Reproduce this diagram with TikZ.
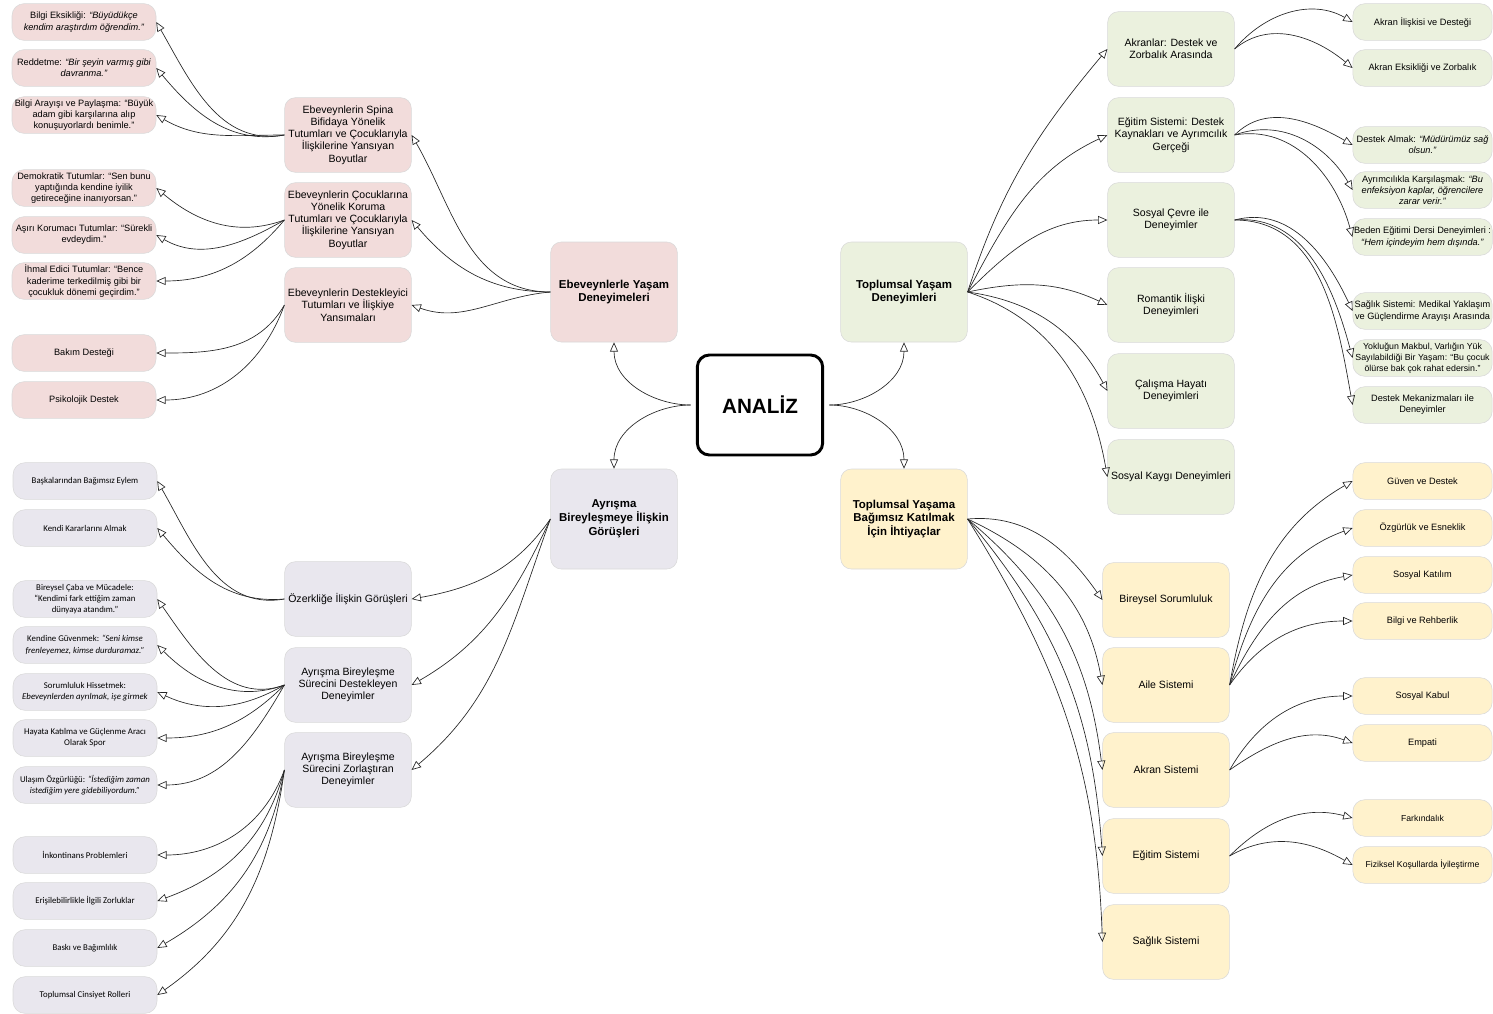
\documentclass[tikz,border=0pt]{standalone}
\usepackage{fontspec}
\setmainfont{Liberation Sans}
\newfontfamily\carl{Carlito}
\usetikzlibrary{arrows.meta}
\definecolor{Pk}{HTML}{F2DCDB}
\definecolor{Gy}{HTML}{E9E7EE}
\definecolor{Gn}{HTML}{EBF1DE}
\definecolor{Yw}{HTML}{FFF2CC}
\definecolor{rim}{HTML}{D9D9D9}
\tikzset{
  rbox/.style={rounded corners=9pt, draw=rim, line width=.4pt, align=center, inner sep=1pt},
  leaf/.style={rbox, minimum width=108pt, minimum height=27.5pt, font=\fontsize{6.9}{8.4}\selectfont},
  rleaf/.style={leaf, minimum width=104.5pt},
  cleaf/.style={leaf, font=\carl\fontsize{6.6}{8.4}\selectfont},
  mid/.style={rbox, rounded corners=8pt, minimum width=95pt, minimum height=56pt, font=\fontsize{7.9}{9.2}\selectfont},
  main/.style={rbox, rounded corners=8pt, minimum width=95pt, minimum height=75pt, font=\bfseries\fontsize{8.6}{10.4}\selectfont},
  link/.style={-{Triangle[open,length=7pt,width=6pt]}, line width=.5pt, draw=black!85},
}
\newcommand{\q}[1]{\textit{#1}}

\begin{document}
\begin{tikzpicture}[x=0.75pt, y=-0.75pt]
  \useasboundingbox (0,0) rectangle (1493,1014);
  % centre and the four themes
  \node[rbox, draw=black, line width=2.2pt, fill=white, rounded corners=9pt, minimum width=94pt, minimum height=75pt,
        font=\bfseries\fontsize{15.5}{18}\selectfont] (an) at (760,405) {ANALİZ};
  \node[main, fill=Pk] (ebe) at (614,292) {Ebeveynlerle Yaşam\\Deneyimeleri};
  \node[main, fill=Gy] (ayr) at (614,519) {Ayrışma\\Bireyleşmeye İlişkin\\Görüşleri};
  \node[main, fill=Gn] (tyd) at (904,292) {Toplumsal Yaşam\\Deneyimleri};
  \node[main, fill=Yw] (iht) at (904,519) {Toplumsal Yaşama\\Bağımsız Katılmak\\İçin İhtiyaçlar};
  \draw[link, shorten <=4pt] (an.west) to[out=180,in=-90] (ebe.south);
  \draw[link, shorten <=4pt] (an.west) to[out=180,in=90] (ayr.north);
  \draw[link, shorten <=4pt] (an.east) to[out=0,in=-90] (tyd.south);
  \draw[link, shorten <=4pt] (an.east) to[out=0,in=90] (iht.north);

  % parents (pink)
  \node[mid, fill=Pk] (sp) at (348,135) {Ebeveynlerin Spina\\Bifidaya Yönelik\\Tutumları ve Çocuklarıyla\\İlişkilerine Yansıyan\\Boyutlar};
  \node[mid, fill=Pk] (kor) at (348,220) {Ebeveynlerin Çocuklarına\\Yönelik Koruma\\Tutumları ve Çocuklarıyla\\İlişkilerine Yansıyan\\Boyutlar};
  \node[mid, fill=Pk] (dst) at (348,305) {Ebeveynlerin Destekleyici\\Tutumları ve İlişkiye\\Yansımaları};
  \node[leaf, fill=Pk] (bek) at (84,22) {Bilgi Eksikliği: \q{“Büyüdükçe}\\\q{kendim araştırdım öğrendim.”}};
  \node[leaf, fill=Pk] (red) at (84,68) {Reddetme: \q{“Bir şeyin varmış gibi}\\\q{davranma.”}};
  \node[leaf, fill=Pk] (bar) at (84,115) {Bilgi Arayışı ve Paylaşma: “Büyük\\adam gibi karşılarına alıp\\konuşuyorlardı benimle.”};
  \node[leaf, fill=Pk] (dem) at (84,188) {Demokratik Tutumlar: “Sen bunu\\yaptığında kendine iyilik\\getireceğine inanıyorsan.”};
  \node[leaf, fill=Pk] (asr) at (84,235) {Aşırı Korumacı Tutumlar: “Sürekli\\evdeydim.”};
  \node[leaf, fill=Pk] (ihm) at (84,281) {İhmal Edici Tutumlar: “Bence\\kaderime terkedilmiş gibi bir\\çocukluk dönemi geçirdim.”};
  \node[leaf, fill=Pk] (bak) at (84,353) {Bakım Desteği};
  \node[leaf, fill=Pk] (psk) at (84,400) {Psikolojik Destek};
  \draw[link] (ebe.west) to[out=180,in=-60] (sp.east);
  \draw[link] (ebe.west) to[out=180,in=-50] (kor.east);
  \draw[link] (ebe.west) to[out=185,in=-20] (dst.east);
  \foreach \t/\o/\i in {bek/190/-60, red/190/-50, bar/180/-30}
    \draw[link] (sp.west) to[out=\o,in=\i] (\t.east);
  \foreach \t/\o/\i in {dem/200/-40, asr/210/-30, ihm/230/0}
    \draw[link] (kor.west) to[out=\o,in=\i] (\t.east);
  \foreach \t/\o/\i in {bak/240/0, psk/250/0}
    \draw[link] (dst.west) to[out=\o,in=\i] (\t.east);

  % separation / individuation (grey)
  \node[mid, fill=Gy] (oz) at (348,599) {Özerkliğe İlişkin Görüşleri};
  \node[mid, fill=Gy] (ads) at (348,685) {Ayrışma Bireyleşme\\Sürecini Destekleyen\\Deneyimler};
  \node[mid, fill=Gy] (azd) at (348,770) {Ayrışma Bireyleşme\\Sürecini Zorlaştıran\\Deneyimler};
  \node[cleaf, fill=Gy] (bba) at (85,481) {Başkalarından Bağımsız Eylem};
  \node[cleaf, fill=Gy] (kka) at (85,528) {Kendi Kararlarını Almak};
  \node[cleaf, fill=Gy] (bcm) at (85,599) {Bireysel Çaba ve Mücadele:\\“Kendimi fark ettiğim zaman\\dünyaya atandım.”};
  \node[cleaf, fill=Gy] (kgv) at (85,645) {Kendine Güvenmek: \q{“Seni kimse}\\\q{frenleyemez, kimse durduramaz.”}};
  \node[cleaf, fill=Gy] (shs) at (85,692) {Sorumluluk Hissetmek:\\\q{Ebeveynlerden ayrılmak, işe girmek}};
  \node[cleaf, fill=Gy] (hks) at (85,738) {Hayata Katılma ve Güçlenme Aracı\\Olarak Spor};
  \node[cleaf, fill=Gy] (uoz) at (85,785) {Ulaşım Özgürlüğü: \q{“İstediğim zaman}\\\q{istediğim yere gidebiliyordum.”}};
  \node[cleaf, fill=Gy] (ink) at (85,855) {İnkontinans Problemleri};
  \node[cleaf, fill=Gy] (ers) at (85,901) {Erişilebilirlikle İlgili Zorluklar};
  \node[cleaf, fill=Gy] (bsk) at (85,948) {Baskı ve Bağımlılık};
  \node[cleaf, fill=Gy] (tcr) at (85,995) {Toplumsal Cinsiyet Rolleri};
  \draw[link] (ayr.west) to[out=235,in=10] (oz.east);
  \draw[link] (ayr.west) to[out=245,in=30] (ads.east);
  \draw[link] (ayr.west) to[out=250,in=40] (azd.east);
  \foreach \t/\o/\i in {bba/190/-60, kka/185/-50}
    \draw[link] (oz.west) to[out=\o,in=\i] (\t.east);
  \foreach \t/\o/\i in {bcm/200/-55, kgv/200/-45, shs/210/-25, hks/225/0, uoz/240/0}
    \draw[link] (ads.west) to[out=\o,in=\i] (\t.east);
  \foreach \t/\o/\i in {ink/250/0, ers/255/20, bsk/260/30, tcr/262/35}
    \draw[link] (azd.west) to[out=\o,in=\i] (\t.east);

  % social life (green)
  \node[mid, fill=Gn] (akr) at (1171,49) {Akranlar: Destek ve\\Zorbalık Arasında};
  \node[mid, fill=Gn] (egs) at (1171,135) {Eğitim Sistemi: Destek\\Kaynakları ve Ayrımcılık\\Gerçeği};
  \node[mid, fill=Gn] (sce) at (1171,220) {Sosyal Çevre ile\\Deneyimler};
  \node[mid, fill=Gn] (rom) at (1171,305) {Romantik İlişki\\Deneyimleri};
  \node[mid, fill=Gn] (cal) at (1171,391) {Çalışma Hayatı\\Deneyimleri};
  \node[mid, fill=Gn] (kay) at (1171,477) {Sosyal Kaygı Deneyimleri};
  \node[rleaf, fill=Gn] (aid) at (1422.5,22) {Akran İlişkisi ve Desteği};
  \node[rleaf, fill=Gn] (aez) at (1422.5,68) {Akran Eksikliği ve Zorbalık};
  \node[rleaf, fill=Gn] (dal) at (1422.5,145) {Destek Almak: \q{“Müdürümüz sağ}\\\q{olsun.”}};
  \node[rleaf, fill=Gn] (ayk) at (1422.5,190) {Ayrımcılıkla Karşılaşmak: \q{“Bu}\\\q{enfeksiyon kaplar, öğrencilere}\\\q{zarar verir.”}};
  \node[rleaf, fill=Gn] (bed) at (1422.5,237) {Beden Eğitimi Dersi Deneyimleri :\\\q{“Hem içindeyim hem dışında.”}};
  \node[rleaf, fill=Gn] (ssm) at (1422.5,311) {Sağlık Sistemi: Medikal Yaklaşım\\ve Güçlendirme Arayışı Arasında};
  \node[rleaf, fill=Gn, font=\fontsize{6.6}{8.2}\selectfont] (yok) at (1422.5,358) {Yokluğun Makbul, Varlığın Yük\\Sayılabildiği Bir Yaşam: “Bu çocuk\\ölürse bak çok rahat edersin.”};
  \node[rleaf, fill=Gn] (dme) at (1422.5,405) {Destek Mekanizmaları ile\\Deneyimler};
  \foreach \t/\o/\i in {akr/72/230, egs/62/205, sce/45/180, rom/12/155, cal/-8/118, kay/-18/100}
    \draw[link] (tyd.east) to[out=\o,in=\i] (\t.west);
  \foreach \t/\o/\i in {aid/50/150, aez/40/140}
    \draw[link] (akr.east) to[out=\o,in=\i] (\t.west);
  \foreach \t/\o/\i in {dal/45/150, ayk/20/120, bed/10/105}
    \draw[link] (egs.east) to[out=\o,in=\i] (\t.west);
  \foreach \t/\o/\i in {ssm/15/115, yok/5/105, dme/0/100}
    \draw[link] (sce.east) to[out=\o,in=\i] (\t.west);

  % needs (yellow)
  \node[mid, fill=Yw] (bsr) at (1166,600) {Bireysel Sorumluluk};
  \node[mid, fill=Yw] (ail) at (1166,685) {Aile Sistemi};
  \node[mid, fill=Yw] (aks) at (1166,770) {Akran Sistemi};
  \node[mid, fill=Yw] (egt) at (1166,856) {Eğitim Sistemi};
  \node[mid, fill=Yw] (sag) at (1166,942) {Sağlık Sistemi};
  \node[rleaf, fill=Yw] (gud) at (1422.5,481) {Güven ve Destek};
  \node[rleaf, fill=Yw] (oze) at (1422.5,528) {Özgürlük ve Esneklik};
  \node[rleaf, fill=Yw] (ska) at (1422.5,575) {Sosyal Katılım};
  \node[rleaf, fill=Yw] (bre) at (1422.5,621) {Bilgi ve Rehberlik};
  \node[rleaf, fill=Yw] (skb) at (1422.5,696) {Sosyal Kabul};
  \node[rleaf, fill=Yw] (emp) at (1422.5,743) {Empati};
  \node[rleaf, fill=Yw, font=\fontsize{6.5}{8}\selectfont] (far) at (1422.5,818) {Farkındalık};
  \node[rleaf, fill=Yw, font=\fontsize{6.5}{8}\selectfont] (fiz) at (1422.5,865) {Fiziksel Koşullarda İyileştirme};
  \foreach \t/\o/\i in {bsr/5/125, ail/-25/100, aks/-40/97, egt/-50/94, sag/-58/92}
    \draw[link] (iht.east) to[out=\o,in=\i] (\t.west);
  \foreach \t/\o/\i in {gud/80/210, oze/75/200, ska/65/190, bre/55/180}
    \draw[link] (ail.east) to[out=\o,in=\i] (\t.west);
  \foreach \t/\o/\i in {skb/60/180, emp/35/160}
    \draw[link] (aks.east) to[out=\o,in=\i] (\t.west);
  \foreach \t/\o/\i in {far/45/165, fiz/30/150}
    \draw[link] (egt.east) to[out=\o,in=\i] (\t.west);
\end{tikzpicture}
\end{document}
